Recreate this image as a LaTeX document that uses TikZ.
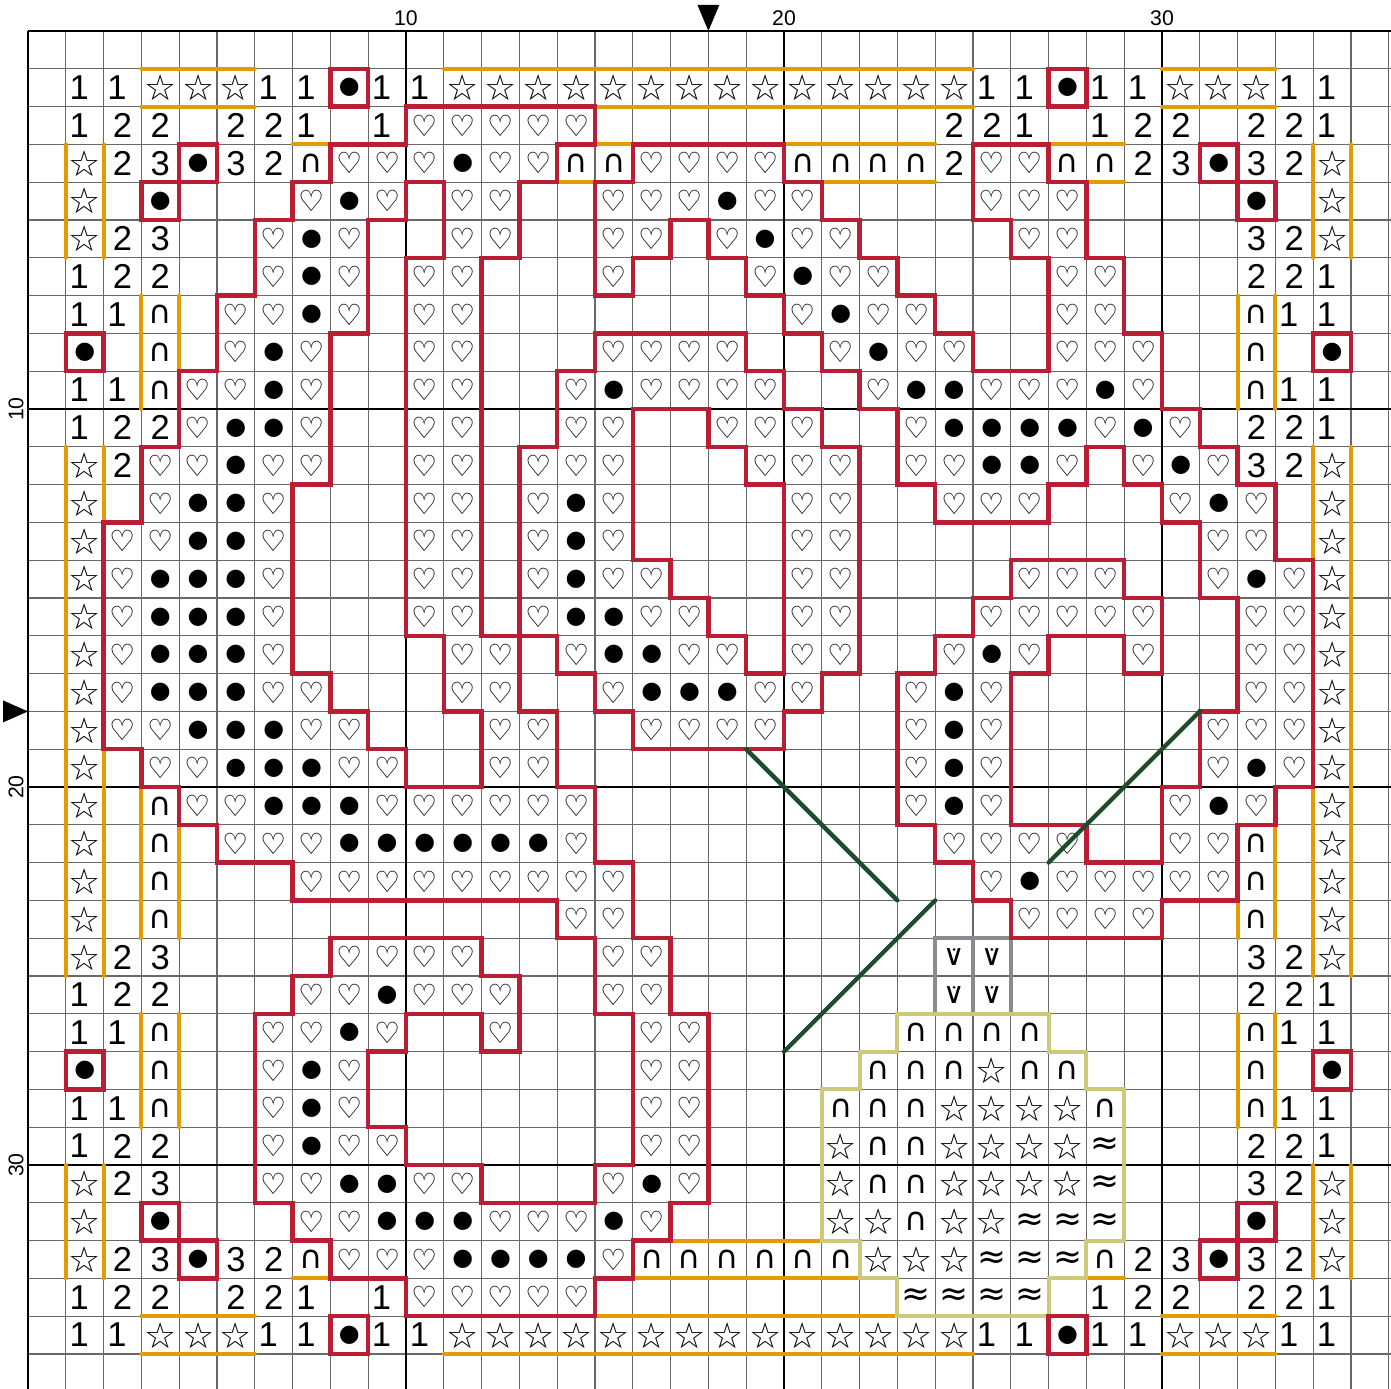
\documentclass[tikz,border=0pt]{standalone}
\usepackage{fontspec}
\setmainfont{Liberation Sans}
\newfontfamily\symfont{DejaVu Sans}
\usepackage{tikz}

\definecolor{bstitch}{RGB}{186,30,52}
\definecolor{trim}{RGB}{226,155,0}
\definecolor{stem}{RGB}{28,76,44}
\definecolor{sand}{RGB}{205,200,122}
\definecolor{frost}{RGB}{138,138,144}
\definecolor{minorgrid}{RGB}{105,105,105}

%% chart cells, one call per row: digits, s star, o dot, h heart,
%% n cap, v vee, a approx, - empty
\newcommand\chartrow[2]{%
  \foreach \cl [count=\col] in {#2}{%
    \expandafter\xdef\csname cell-#1-\col\endcsname{\cl}}}
\newcommand\defglyph[2]{\expandafter\def\csname gl-#1\endcsname{#2}}
\newcommand\glyph[1]{\csname gl-#1\endcsname}
\defglyph{1}{1\kern0.32em}\defglyph{2}{2}\defglyph{3}{3}
\defglyph{s}{{\symfont\fontsize{13.5}{13.5}\selectfont ☆}}
\defglyph{o}{{\symfont\fontsize{9}{9}\selectfont ●}}
\defglyph{h}{{\symfont\fontsize{11}{11}\selectfont ♡}}
\defglyph{n}{{\symfont\fontsize{12}{12}\selectfont ∩}}
\defglyph{a}{{\symfont\fontsize{13}{13}\selectfont ≈}}
\defglyph{v}{{\symfont\fontsize{11}{11}\selectfont ∨}}

\newif\ifheart
\newcommand\testheart[2]{%
  \global\heartfalse
  \ifcsname cell-#1-#2\endcsname
    \if h\csname cell-#1-#2\endcsname\global\hearttrue\fi
    \if o\csname cell-#1-#2\endcsname\global\hearttrue\fi
  \fi}

\chartrow{1}{1,1,s,s,s,1,1,o,1,1,s,s,s,s,s,s,s,s,s,s,s,s,s,s,1,1,o,1,1,s,s,s,1,1}
\chartrow{2}{1,2,2,-,2,2,1,-,1,h,h,h,h,h,-,-,-,-,-,-,-,-,-,2,2,1,-,1,2,2,-,2,2,1}
\chartrow{3}{s,2,3,o,3,2,n,h,h,h,o,h,h,n,n,h,h,h,h,n,n,n,n,2,h,h,n,n,2,3,o,3,2,s}
\chartrow{4}{s,-,o,-,-,-,h,o,h,-,h,h,-,-,h,h,h,o,h,h,-,-,-,-,h,h,h,-,-,-,-,o,-,s}
\chartrow{5}{s,2,3,-,-,h,o,h,-,-,h,h,-,-,h,h,-,h,o,h,h,-,-,-,-,h,h,-,-,-,-,3,2,s}
\chartrow{6}{1,2,2,-,-,h,o,h,-,h,h,-,-,-,h,-,-,-,h,o,h,h,-,-,-,-,h,h,-,-,-,2,2,1}
\chartrow{7}{1,1,n,-,h,h,o,h,-,h,h,-,-,-,-,-,-,-,-,h,o,h,h,-,-,-,h,h,-,-,-,n,1,1}
\chartrow{8}{o,-,n,-,h,o,h,-,-,h,h,-,-,-,h,h,h,h,-,-,h,o,h,h,-,-,h,h,h,-,-,n,-,o}
\chartrow{9}{1,1,n,h,h,o,h,-,-,h,h,-,-,h,o,h,h,h,h,-,-,h,o,o,h,h,h,o,h,-,-,n,1,1}
\chartrow{10}{1,2,2,h,o,o,h,-,-,h,h,-,-,h,h,-,-,h,h,h,-,-,h,o,o,o,o,h,o,h,-,2,2,1}
\chartrow{11}{s,2,h,h,o,h,h,-,-,h,h,-,h,h,h,-,-,-,h,h,h,-,h,h,o,o,h,-,h,o,h,3,2,s}
\chartrow{12}{s,-,h,o,o,h,-,-,-,h,h,-,h,o,h,-,-,-,-,h,h,-,-,h,h,h,-,-,-,h,o,h,-,s}
\chartrow{13}{s,h,h,o,o,h,-,-,-,h,h,-,h,o,h,-,-,-,-,h,h,-,-,-,-,-,-,-,-,-,h,h,-,s}
\chartrow{14}{s,h,o,o,o,h,-,-,-,h,h,-,h,o,h,h,-,-,-,h,h,-,-,-,-,h,h,h,-,-,h,o,h,s}
\chartrow{15}{s,h,o,o,o,h,-,-,-,h,h,-,h,o,o,h,h,-,-,h,h,-,-,-,h,h,h,h,h,-,-,h,h,s}
\chartrow{16}{s,h,o,o,o,h,-,-,-,-,h,h,-,h,o,o,h,h,-,h,h,-,-,h,o,h,-,-,h,-,-,h,h,s}
\chartrow{17}{s,h,o,o,o,h,h,-,-,-,h,h,-,-,h,o,o,o,h,h,-,-,h,o,h,-,-,-,-,-,-,h,h,s}
\chartrow{18}{s,h,h,o,o,o,h,h,-,-,-,h,h,-,-,h,h,h,h,-,-,-,h,o,h,-,-,-,-,-,h,h,h,s}
\chartrow{19}{s,-,h,h,o,o,o,h,h,-,-,h,h,-,-,-,-,-,-,-,-,-,h,o,h,-,-,-,-,-,h,o,h,s}
\chartrow{20}{s,-,n,h,h,o,o,o,h,h,h,h,h,h,-,-,-,-,-,-,-,-,h,o,h,-,-,-,-,h,o,h,-,s}
\chartrow{21}{s,-,n,-,h,h,h,o,o,o,o,o,o,h,-,-,-,-,-,-,-,-,-,h,h,h,h,-,-,h,h,n,-,s}
\chartrow{22}{s,-,n,-,-,-,h,h,h,h,h,h,h,h,h,-,-,-,-,-,-,-,-,-,h,o,h,h,h,h,h,n,-,s}
\chartrow{23}{s,-,n,-,-,-,-,-,-,-,-,-,-,h,h,-,-,-,-,-,-,-,-,-,-,h,h,h,h,-,-,n,-,s}
\chartrow{24}{s,2,3,-,-,-,-,h,h,h,h,-,-,-,h,h,-,-,-,-,-,-,-,v,v,-,-,-,-,-,-,3,2,s}
\chartrow{25}{1,2,2,-,-,-,h,h,o,h,h,h,-,-,h,h,-,-,-,-,-,-,-,v,v,-,-,-,-,-,-,2,2,1}
\chartrow{26}{1,1,n,-,-,h,h,o,h,-,-,h,-,-,-,h,h,-,-,-,-,-,n,n,n,n,-,-,-,-,-,n,1,1}
\chartrow{27}{o,-,n,-,-,h,o,h,-,-,-,-,-,-,-,h,h,-,-,-,-,n,n,n,s,n,n,-,-,-,-,n,-,o}
\chartrow{28}{1,1,n,-,-,h,o,h,-,-,-,-,-,-,-,h,h,-,-,-,n,n,n,s,s,s,s,n,-,-,-,n,1,1}
\chartrow{29}{1,2,2,-,-,h,o,h,h,-,-,-,-,-,-,h,h,-,-,-,s,n,n,s,s,s,s,a,-,-,-,2,2,1}
\chartrow{30}{s,2,3,-,-,h,h,o,o,h,h,-,-,-,h,o,h,-,-,-,s,n,n,s,s,s,s,a,-,-,-,3,2,s}
\chartrow{31}{s,-,o,-,-,-,h,h,o,o,o,h,h,h,o,h,-,-,-,-,s,s,n,s,s,a,a,a,-,-,-,o,-,s}
\chartrow{32}{s,2,3,o,3,2,n,h,h,h,o,o,o,o,h,n,n,n,n,n,n,s,s,s,a,a,a,n,2,3,o,3,2,s}
\chartrow{33}{1,2,2,-,2,2,1,-,1,h,h,h,h,h,-,-,-,-,-,-,-,-,a,a,a,a,-,1,2,2,-,2,2,1}
\chartrow{34}{1,1,s,s,s,1,1,o,1,1,s,s,s,s,s,s,s,s,s,s,s,s,s,s,1,1,o,1,1,s,s,s,1,1}

\begin{document}
\begin{tikzpicture}[
  x=0.5cm, y=-0.5cm,
  minor/.style  ={draw=minorgrid,line width=0.45pt},
  major/.style  ={draw=black,line width=1pt},
  rail/.style   ={draw=trim,line width=1.5pt,line cap=round},
  outline/.style={draw=bstitch,line width=1.7pt,line cap=rect},
  stemline/.style={draw=stem,line width=1.6pt,line cap=round},
  sandline/.style={draw=sand,line width=1.5pt,line join=miter},
  frostline/.style={draw=frost,line width=1.5pt},
  cellsym/.style={inner sep=0pt,anchor=center,font=\fontsize{13}{13}\selectfont},
  ruler/.style  ={inner sep=0pt,font=\fontsize{8}{8}\selectfont}
]
\useasboundingbox (-0.7407,-0.8201) rectangle (36.0582,35.926);
\fill[white] (-0.7407,-0.8201) rectangle (36.0582,35.926);

%% grid
\foreach \k in {1,...,36} \draw[minor] (\k,0) -- (\k,35.926);
\foreach \k in {1,...,35} \draw[minor] (0,\k) -- (36.0582,\k);
\foreach \k in {0,10,20,30}{
  \draw[major] (\k,0) -- (\k,35.926);
  \draw[major] (0,\k) -- (36.0582,\k);
}

%% rulers and centre marks
\foreach \k in {10,20,30}{
  \node[ruler] (top-\k) at (\k,-0.344) {\k};
  \node[ruler,rotate=90] (left-\k) at (-0.317,\k) {\k};
}
\fill (18,0) -- (17.71,-0.69) -- (18.29,-0.69) -- cycle;
\fill (0,18) -- (-0.66,17.71) -- (-0.66,18.29) -- cycle;

%% orange rails round the border runs
\foreach \rw in {1,2,34,35}
  \foreach \a/\b in {3/6,11/25,30/33} \draw[rail] (\a,\rw) -- (\b,\rw);
\foreach \rw in {3,4}
  \foreach \a/\b in {7/8,14/16,20/24,27/29} \draw[rail] (\a,\rw) -- (\b,\rw);
\foreach \rw in {32,33}
  \foreach \a/\b in {7/8,16/22,28/29} \draw[rail] (\a,\rw) -- (\b,\rw);
\foreach \cl in {1,2,34,35}
  \foreach \a/\b in {3/6,11/25,30/33} \draw[rail] (\cl,\a) -- (\cl,\b);
\foreach \a/\b in {7/10,20/24,26/29}{
  \draw[rail] (3,\a) -- (3,\b);
  \draw[rail] (4,\a) -- (4,\b);
}
\foreach \a/\b in {7/10,21/24,26/29}{
  \draw[rail] (32,\a) -- (32,\b);
  \draw[rail] (33,\a) -- (33,\b);
}

%% grey box round the vee cells, sand outline round the bottom motif
\draw[frostline] (24,24) rectangle (26,26) (25,24) -- (25,26);
\draw[sandline] (23,26) -- (27,26) -- (27,27) -- (28,27) -- (28,28) -- (29,28)
  -- (29,32) -- (28,32) -- (28,33) -- (27,33) -- (27,34) -- (23,34) -- (23,33)
  -- (22,33) -- (22,32) -- (21,32) -- (21,28) -- (22,28) -- (22,27) -- (23,27) -- cycle;

%% red backstitch on every side of a heart cell that faces a non-heart cell
\foreach \rw in {1,...,34}{
  \foreach \col in {1,...,34}{
    \testheart{\rw}{\col}
    \ifheart
      \pgfmathtruncatemacro\rabove{\rw-1}
      \pgfmathtruncatemacro\rbelow{\rw+1}
      \pgfmathtruncatemacro\cleft{\col-1}
      \pgfmathtruncatemacro\cright{\col+1}
      \testheart{\rabove}{\col}\ifheart\else\draw[outline] (\col,\rw) -- (\cright,\rw);\fi
      \testheart{\rbelow}{\col}\ifheart\else\draw[outline] (\col,\rbelow) -- (\cright,\rbelow);\fi
      \testheart{\rw}{\cleft}\ifheart\else\draw[outline] (\col,\rw) -- (\col,\rbelow);\fi
      \testheart{\rw}{\cright}\ifheart\else\draw[outline] (\cright,\rw) -- (\cright,\rbelow);\fi
    \fi
  }
}

%% symbols (the vee carries a small dot between its arms)
\foreach \rw in {1,...,34}{
  \foreach \col in {1,...,34}{
    \edef\sym{\csname cell-\rw-\col\endcsname}
    \if-\sym\else
      \node[cellsym] (c-\rw-\col) at (\col+0.5,\rw+0.5) {\glyph{\sym}};
      \if v\sym\fill (c-\rw-\col.center) ++(0,-0.2) circle (0.55pt);\fi
    \fi
  }
}

%% stems
\draw[stemline] (19,19) -- (23,23);
\draw[stemline] (24,23) -- (20,27);
\draw[stemline] (31,18) -- (27,22);
\end{tikzpicture}
\end{document}
